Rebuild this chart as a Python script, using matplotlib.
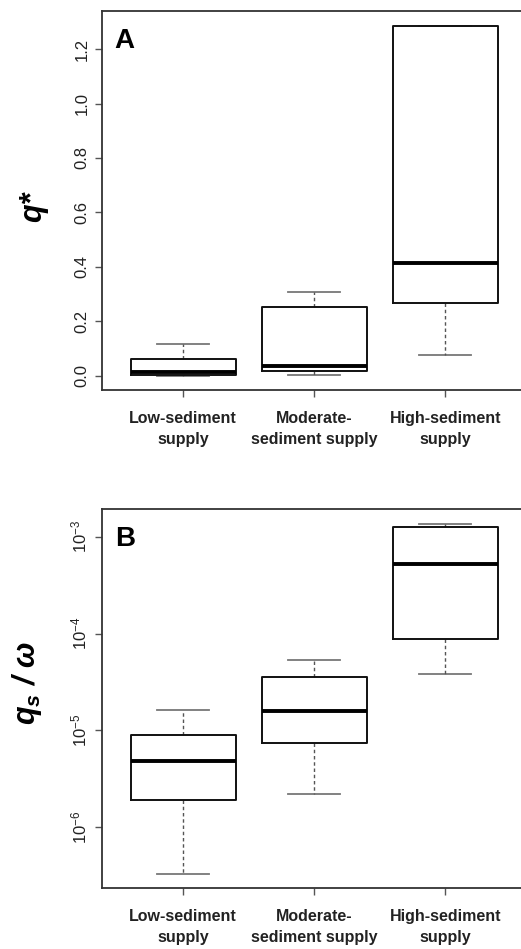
import matplotlib
matplotlib.use('Agg')
import matplotlib.pyplot as plt
import matplotlib.ticker as mticker
import numpy as np

plt.rcParams['font.family'] = ['Liberation Sans', 'DejaVu Sans']
plt.rcParams['mathtext.default'] = 'regular'

# ── Data: box-plot summaries per sediment-supply class ────────────────────────
groups = ['Low-sediment\nsupply', 'Moderate-\nsediment supply', 'High-sediment\nsupply']

# Panel A: q*
qstar_whislo = [0.000, 0.001, 0.075]
qstar_q1     = [0.002, 0.017, 0.266]
qstar_med    = [0.013, 0.037, 0.415]
qstar_q3     = [0.060, 0.251, 1.285]
qstar_whishi = [0.116, 0.306, 1.285]

# Panel B: qs / omega (log scale)
qsw_whislo = [3.3e-7, 2.2e-6, 3.8e-5]
qsw_q1     = [1.9e-6, 7.5e-6, 8.7e-5]
qsw_med    = [4.8e-6, 1.58e-5, 5.2e-4]
qsw_q3     = [8.9e-6, 3.55e-5, 1.25e-3]
qsw_whishi = [1.61e-5, 5.4e-5, 1.36e-3]


def make_stats(lo, q1, med, q3, hi):
    return [dict(whislo=a, q1=b, med=c, q3=d, whishi=e, fliers=[])
            for a, b, c, d, e in zip(lo, q1, med, q3, hi)]


def draw_panel(ax, stats):
    ax.bxp(
        stats, positions=[1, 2, 3], widths=0.8, capwidths=0.4,
        showfliers=False, patch_artist=False,
        boxprops=dict(color='#111111', linewidth=1.4, zorder=3),
        medianprops=dict(color='#000000', linewidth=2.8, solid_capstyle='butt', zorder=4),
        whiskerprops=dict(color='#555555', linewidth=1.0, linestyle=(0, (2.5, 2)), zorder=2),
        capprops=dict(color='#777777', linewidth=1.3, zorder=1.5),
    )
    ax.set_xlim(0.38, 3.62)
    ax.set_xticks([1, 2, 3])
    ax.set_xticklabels(groups, fontsize=11.5, fontweight='bold', linespacing=1.55)
    ax.tick_params(axis='x', length=5, width=1, color='#555555', pad=10, colors='#222222')
    ax.tick_params(axis='y', which='major', length=5, width=1, color='#555555',
                   labelrotation=90, labelsize=12, pad=4, colors='#222222')
    for s in ax.spines.values():
        s.set_linewidth(1.3)
        s.set_color('#333333')


fig = plt.figure(figsize=(5.21, 9.49), dpi=100)

# ── Panel A ───────────────────────────────────────────────────────────────────
axA = fig.add_axes([0.1958, 0.589, 0.8148, 0.3994])
draw_panel(axA, make_stats(qstar_whislo, qstar_q1, qstar_med, qstar_q3, qstar_whishi))
axA.set_ylim(-0.0525, 1.34)
axA.set_yticks([0.0, 0.2, 0.4, 0.6, 0.8, 1.0, 1.2])
axA.yaxis.set_major_formatter(mticker.FormatStrFormatter('%.1f'))
for lab in axA.get_yticklabels():
    lab.set_verticalalignment('center')
axA.set_ylabel('q*', fontsize=22, fontweight='bold', fontstyle='italic')
axA.yaxis.set_label_coords(-0.127, 0.483)
axA.text(0.03, 0.956, 'A', transform=axA.transAxes, fontsize=20,
         fontweight='bold', ha='left', va='top')

# ── Panel B ───────────────────────────────────────────────────────────────────
axB = fig.add_axes([0.1958, 0.0646, 0.8148, 0.399])
axB.set_yscale('log')
draw_panel(axB, make_stats(qsw_whislo, qsw_q1, qsw_med, qsw_q3, qsw_whishi))
axB.set_ylim(10 ** -6.623, 10 ** -2.714)
axB.yaxis.set_major_locator(mticker.FixedLocator([1e-6, 1e-5, 1e-4, 1e-3]))
axB.yaxis.set_minor_locator(mticker.NullLocator())
axB.yaxis.set_major_formatter(
    mticker.FuncFormatter(lambda v, p: '$10^{%d}$' % int(round(np.log10(v)))))
for lab in axB.get_yticklabels():
    lab.set_verticalalignment('center')
axB.set_ylabel('$q_s$ / ω', fontsize=22, fontweight='bold', fontstyle='italic')
axB.yaxis.set_label_coords(-0.137, 0.54)
axB.text(0.03, 0.956, 'B', transform=axB.transAxes, fontsize=20,
         fontweight='bold', ha='left', va='top')

fig.savefig('out.png', dpi=100, facecolor='white')
